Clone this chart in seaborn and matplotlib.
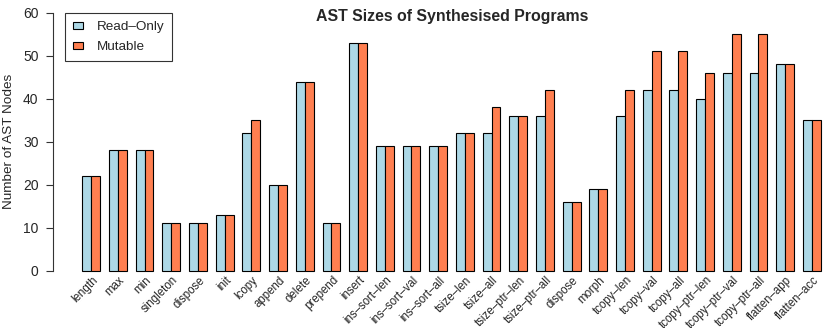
import numpy as np
import pandas as pd
import seaborn as sns
import matplotlib.pyplot as plt

programs = ["length", "max", "min", "singleton", "dispose", "init", "lcopy",
            "append", "delete", "prepend", "insert", "ins–sort–len",
            "ins–sort–val", "ins–sort–all", "tsize–len", "tsize–all",
            "tsize–ptr–len", "tsize–ptr–all", "dispose", "morph", "tcopy–len",
            "tcopy–val", "tcopy–all", "tcopy–ptr–len", "tcopy–ptr–val",
            "tcopy–ptr–all", "flatten–app", "flatten–acc"]
read_only = [22, 28, 28, 11, 11, 13, 32, 20, 44, 11, 53, 29, 29, 29, 32, 32,
             36, 36, 16, 19, 36, 42, 42, 40, 46, 46, 48, 35]
mutable = [22, 28, 28, 11, 11, 13, 35, 20, 44, 11, 53, 29, 29, 29, 32, 38,
           36, 42, 16, 19, 42, 51, 51, 46, 55, 55, 48, 35]
series = ["Read–Only", "Mutable"]
colors = ["#ADD8E6", "#FF7F50"]

# "dispose" appears twice, so key the bars by position
ids = [str(i) for i in range(len(programs))]
df = pd.DataFrame({
    "id": ids * 2,
    "variant": [series[0]] * len(ids) + [series[1]] * len(ids),
    "nodes": read_only + mutable,
})

sns.set_style("white")
plt.rcParams["font.family"] = ["Liberation Sans", "DejaVu Sans"]

W, H = 830, 328
fig = plt.figure(figsize=(W / 100, H / 100), dpi=100)
ax = fig.add_axes([53 / W, 1 - 281 / H, 1 - 53 / W, (281 - 2.4) / H])

sns.barplot(data=df, x="id", y="nodes", hue="variant", order=ids,
            hue_order=series, palette=colors, width=2 / 3, gap=0,
            edgecolor="black", linewidth=0.8, saturation=1, ax=ax)

ax.set_xlim(-1.431, 27.68)
ax.set_ylim(-2.4, 62.4)
for s in ["top", "right", "bottom"]:
    ax.spines[s].set_visible(False)
ax.spines["left"].set_bounds(0, 60)
ax.spines["left"].set_color("#333333")
ax.spines["left"].set_linewidth(0.8)
ax.set_yticks(range(0, 61, 10))
ax.tick_params(axis="y", length=5.4, width=0.8, color="#333333",
               labelsize=10, pad=5, left=True)
ax.set_xticks([])
ax.set_xlabel("")
ax.set_ylabel("Number of AST Nodes", fontsize=9.7, labelpad=5.8)

# rotated category labels, right end just under each bar pair
for i, name in enumerate(programs):
    ax.text(i + 0.03, -0.8, name, rotation=45, ha="right", va="top",
            rotation_mode="anchor", fontsize=8.3, transform=ax.transData,
            clip_on=False)

fig.text(452 / W, 1 - 17 / H, "AST Sizes of Synthesised Programs",
         ha="center", va="center", fontsize=11.4, fontweight="bold")

handles, labels = ax.get_legend_handles_labels()
ax.legend(handles, labels, loc="upper left",
          bbox_to_anchor=(65 / W, 1 - 13 / H), bbox_transform=fig.transFigure,
          borderaxespad=0, frameon=True, fancybox=False, edgecolor="black",
          fontsize=9.7, handlelength=0.75, handleheight=0.45,
          handletextpad=1.0, borderpad=0.6, labelspacing=0.6)
ax.get_legend().get_frame().set_linewidth(0.8)

fig.savefig("out.png", dpi=100)
